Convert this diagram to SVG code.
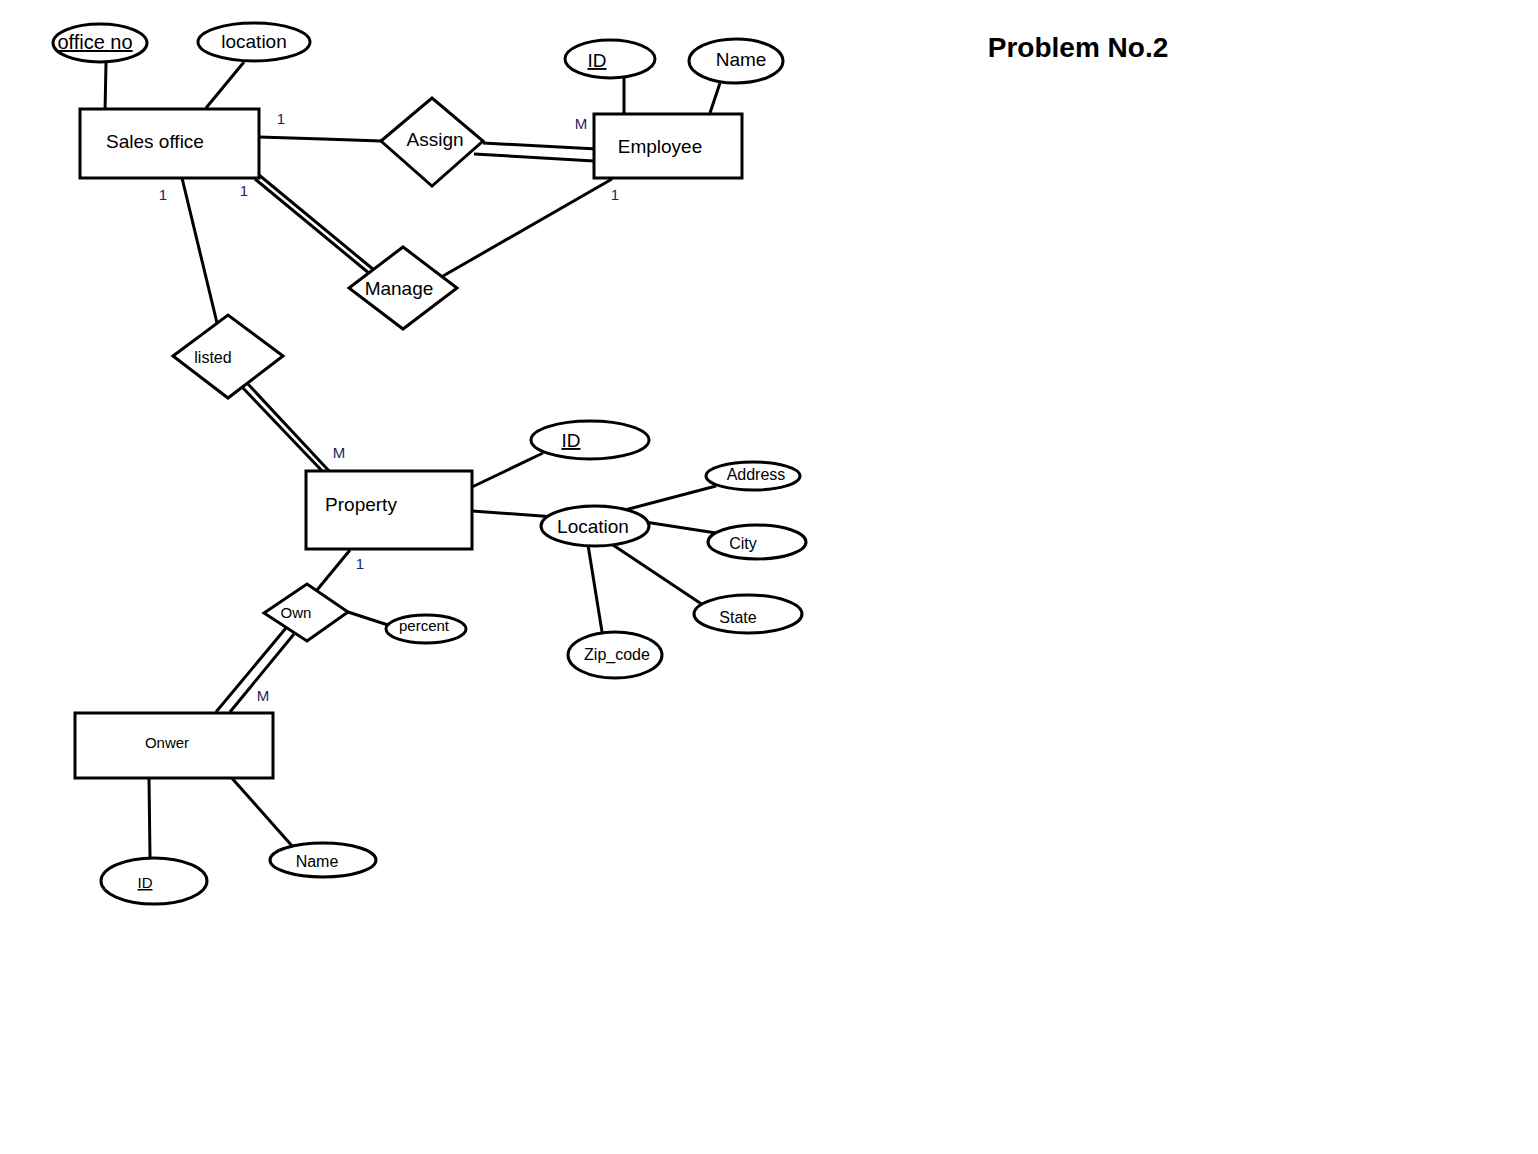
<svg xmlns="http://www.w3.org/2000/svg" width="1538" height="1154" viewBox="0 0 1538 1154">
<style>
.s{fill:#fff;stroke:#000;stroke-width:3}
.l{stroke:#000;stroke-width:3;fill:none}
.t{font-family:"Liberation Sans",Arial,sans-serif;font-size:19px;fill:#000;text-anchor:middle}
.m{font-size:15px}
.k{font-size:16px}
.u{text-decoration:underline}
.n{font-family:"Liberation Sans",Arial,sans-serif;font-size:15px;fill:#1a2660;text-anchor:middle}
</style>
<rect width="1538" height="1154" fill="#fff"/>
<g id="connectors">
<line class="l" x1="106" y1="63" x2="105" y2="112"/>
<line class="l" x1="244" y1="62" x2="206" y2="108"/>
<polyline class="l" points="259,137 323,139 381,141"/>
<line class="l" x1="483" y1="143" x2="597" y2="149"/>
<line class="l" x1="474" y1="154" x2="594" y2="161"/>
<line class="l" x1="624" y1="78" x2="624" y2="114"/>
<line class="l" x1="720" y1="83" x2="710" y2="113"/>
<line class="l" x1="259" y1="175" x2="374" y2="270"/>
<line class="l" x1="255" y1="179" x2="370" y2="274"/>
<line class="l" x1="612" y1="179" x2="443" y2="276"/>
<line class="l" x1="182" y1="178" x2="218" y2="327"/>
<line class="l" x1="242" y1="387" x2="324" y2="473"/>
<line class="l" x1="247" y1="383" x2="330" y2="472"/>
<line class="l" x1="472" y1="487" x2="543" y2="453"/>
<line class="l" x1="472" y1="511" x2="555" y2="517"/>
<line class="l" x1="625" y1="510" x2="716" y2="486"/>
<line class="l" x1="645" y1="522" x2="716" y2="533"/>
<line class="l" x1="610" y1="543" x2="703" y2="605"/>
<line class="l" x1="588" y1="545" x2="603" y2="638"/>
<line class="l" x1="350" y1="550" x2="317" y2="590"/>
<line class="l" x1="348" y1="612" x2="388" y2="625"/>
<line class="l" x1="286" y1="628" x2="216" y2="712"/>
<line class="l" x1="294" y1="634" x2="230" y2="712"/>
<line class="l" x1="149" y1="778" x2="150" y2="857"/>
<line class="l" x1="230" y1="776" x2="293" y2="847"/>
<text class="n" x="281" y="124">1</text>
<text class="n" x="581" y="129">M</text>
<text class="n" x="163" y="200">1</text>
<text class="n" x="244" y="196">1</text>
<text class="n" x="615" y="200">1</text>
<text class="n" x="339" y="458">M</text>
<text class="n" x="360" y="569">1</text>
<text class="n" x="263" y="701">M</text>
</g>
<g id="office_no"><ellipse class="s" cx="100" cy="43" rx="47" ry="19"/><text class="t u" x="95" y="49" style="font-size:20px">office no</text></g>
<g id="location"><ellipse class="s" cx="254" cy="42" rx="56" ry="19"/><text class="t" x="254" y="48">location</text></g>
<g id="sales_office"><rect class="s" x="80" y="109" width="179" height="69"/><text class="t" x="155" y="148">Sales office</text></g>
<g id="assign"><polygon class="s" points="381,141 432,98 483,141 432,186"/><text class="t" x="435" y="146">Assign</text></g>
<g id="employee_id"><ellipse class="s" cx="610" cy="59" rx="45" ry="19"/><text class="t u" x="597" y="67">ID</text></g>
<g id="employee_name"><ellipse class="s" cx="736" cy="61" rx="47" ry="22"/><text class="t" x="741" y="66">Name</text></g>
<g id="employee"><rect class="s" x="594" y="114" width="148" height="64"/><text class="t" x="660" y="153">Employee</text></g>
<g id="manage"><polygon class="s" points="349,288 403,247 457,288 403,329"/><text class="t" x="399" y="295">Manage</text></g>
<g id="listed"><polygon class="s" points="173,356 228,315 283,356 228,398"/><text class="t k" x="213" y="363">listed</text></g>
<g id="property"><rect class="s" x="306" y="471" width="166" height="78"/><text class="t" x="361" y="511">Property</text></g>
<g id="property_id"><ellipse class="s" cx="590" cy="440" rx="59" ry="19"/><text class="t u" x="571" y="447">ID</text></g>
<g id="property_location"><ellipse class="s" cx="595" cy="526" rx="54" ry="20"/><text class="t" x="593" y="533">Location</text></g>
<g id="address"><ellipse class="s" cx="753" cy="476" rx="47" ry="14"/><text class="t k" x="756" y="480">Address</text></g>
<g id="city"><ellipse class="s" cx="757" cy="542" rx="49" ry="17"/><text class="t k" x="743" y="549">City</text></g>
<g id="state"><ellipse class="s" cx="748" cy="614" rx="54" ry="19"/><text class="t k" x="738" y="623">State</text></g>
<g id="zip_code"><ellipse class="s" cx="615" cy="655" rx="47" ry="23"/><text class="t k" x="617" y="660">Zip_code</text></g>
<g id="own"><polygon class="s" points="264,613 307,584 348,612 307,641"/><text class="t m" x="296" y="618">Own</text></g>
<g id="percent"><ellipse class="s" cx="426" cy="629" rx="40" ry="14"/><text class="t m" x="424" y="631">percent</text></g>
<g id="onwer"><rect class="s" x="75" y="713" width="198" height="65"/><text class="t m" x="167" y="748">Onwer</text></g>
<g id="onwer_id"><ellipse class="s" cx="154" cy="881" rx="53" ry="23"/><text class="t m u" x="145" y="888">ID</text></g>
<g id="onwer_name"><ellipse class="s" cx="323" cy="860" rx="53" ry="17"/><text class="t k" x="317" y="867">Name</text></g>
<g id="title"><text x="1078" y="57" style="font-family:'Liberation Sans',Arial,sans-serif;font-size:28px;font-weight:bold;text-anchor:middle">Problem No.2</text></g>
</svg>
